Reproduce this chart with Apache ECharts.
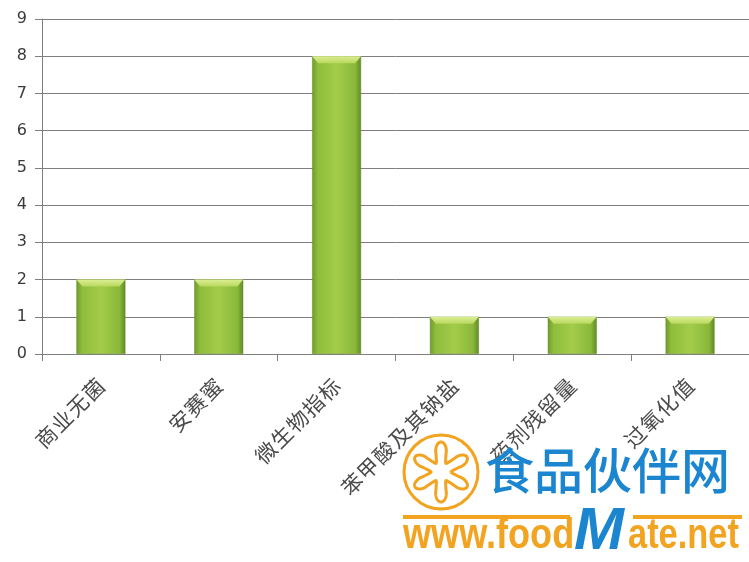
<!DOCTYPE html>
<html><head><meta charset="utf-8">
<script src="https://cdn.jsdelivr.net/npm/echarts@6/dist/echarts.min.js"></script>
<style>html,body{margin:0;padding:0;background:#fff}#c{width:749px;height:562px}</style>
</head><body><div id="c"></div>
<script>
var categories = ['商业无菌','安赛蜜','微生物指标','苯甲酸及其钠盐','药剂残留量','过氧化值'];
var values = [2, 2, 8, 1, 1, 1];
var yTicks = {min: 0, max: 9, interval: 1};

var chart = echarts.init(document.getElementById('c'), null, {renderer: 'canvas'});
var orange = '#f2a31f', blue = '#1b86cf';
var BW = 49;
var cx = 441, cy = 472;
var pts = [];
for (var i = 0; i <= 720; i++) {
  var t = i * Math.PI / 360;
  var c = -Math.cos(6 * t);
  var r = 20 + 10 * (c < 0 ? -Math.pow(-c, 0.7) : Math.pow(c, 0.7));
  pts.push([cx + r * Math.cos(t), cy + r * Math.sin(t)]);
}
var option = {
  animation: false,
  backgroundColor: '#fff',
  grid: {left: 42, right: 0, top: 19, bottom: 208},
  xAxis: {
    type: 'category', data: categories,
    axisLine: {lineStyle: {color: '#7f7f7f', width: 1}},
    axisTick: {show: true, length: 7, lineStyle: {color: '#7f7f7f'}},
    axisLabel: {rotate: 45, margin: 28, fontSize: 21, color: '#4a4a4a',
      fontFamily: '"Noto Sans CJK SC", sans-serif', interval: 0,
      formatter: function (v) { return v.split('').join('\u200A'); }}
  },
  yAxis: {
    type: 'value', min: yTicks.min, max: yTicks.max, interval: yTicks.interval,
    axisLine: {show: true, lineStyle: {color: '#7f7f7f'}},
    axisTick: {show: true, length: 7, lineStyle: {color: '#7f7f7f'}},
    splitLine: {lineStyle: {color: '#7f7f7f', width: 1}},
    axisLabel: {fontSize: 16, color: '#3a3a3a', margin: 15, fontFamily: '"DejaVu Sans", sans-serif'}
  },
  series: [{
    type: 'bar', data: values, barWidth: BW,
    itemStyle: {
      color: new echarts.graphic.LinearGradient(0, 0, 1, 0, [
        {offset: 0, color: '#6f9a2c'},
        {offset: 0.12, color: '#8fbd3c'},
        {offset: 0.5, color: '#a3cc4a'},
        {offset: 0.88, color: '#8ab83a'},
        {offset: 1, color: '#5f8a26'}
      ]),
      borderColor: '#6a8f2e', borderWidth: 0.5
    }
  }, {
    type: 'custom', data: values, z: 3,
    renderItem: function (params, api) {
      var p = api.coord([api.value(0), api.value(1)]);
      var h = 7, ins = 6, hw = BW / 2;
      return {
        type: 'polygon',
        shape: {points: [[p[0] - hw, p[1]], [p[0] + hw, p[1]], [p[0] + hw - ins, p[1] + h], [p[0] - hw + ins, p[1] + h]]},
        style: {fill: new echarts.graphic.LinearGradient(0, 0, 0, 1, [
          {offset: 0, color: '#dcee94'}, {offset: 1, color: '#b8d85c'}])}
      };
    },
    encode: {x: 0, y: 1}
  }],
  graphic: [
    {type: 'circle', shape: {cx: cx, cy: cy, r: 37}, style: {fill: 'rgba(255,255,255,0.6)', stroke: orange, lineWidth: 3}, z: 100},
    {type: 'polyline', shape: {points: pts}, style: {fill: 'none', stroke: orange, lineWidth: 3}, z: 101},
    {type: 'text', x: 485, y: 446, z: 100, style: {text: '食品伙伴网', fill: blue, font: '500 49px "Noto Sans CJK SC"'}},
    {type: 'line', shape: {x1: 403, y1: 517, x2: 570, y2: 517}, style: {stroke: orange, lineWidth: 4}, z: 100},
    {type: 'line', shape: {x1: 633, y1: 517, x2: 742, y2: 517}, style: {stroke: orange, lineWidth: 4}, z: 100},
    {type: 'text', x: 403, y: 515, scaleX: 0.84, z: 100, style: {text: 'www.food', fill: orange, font: '600 43px "Liberation Sans", sans-serif'}},
    {type: 'text', x: 574, y: 502, z: 100, style: {text: 'M', fill: blue, font: 'italic bold 60px "Liberation Sans", sans-serif'}},
    {type: 'text', x: 628, y: 515, scaleX: 0.8, z: 100, style: {text: 'ate.net', fill: orange, font: '600 43px "Liberation Sans", sans-serif'}}
  ]
};
chart.setOption(option);
</script>
</body></html>
